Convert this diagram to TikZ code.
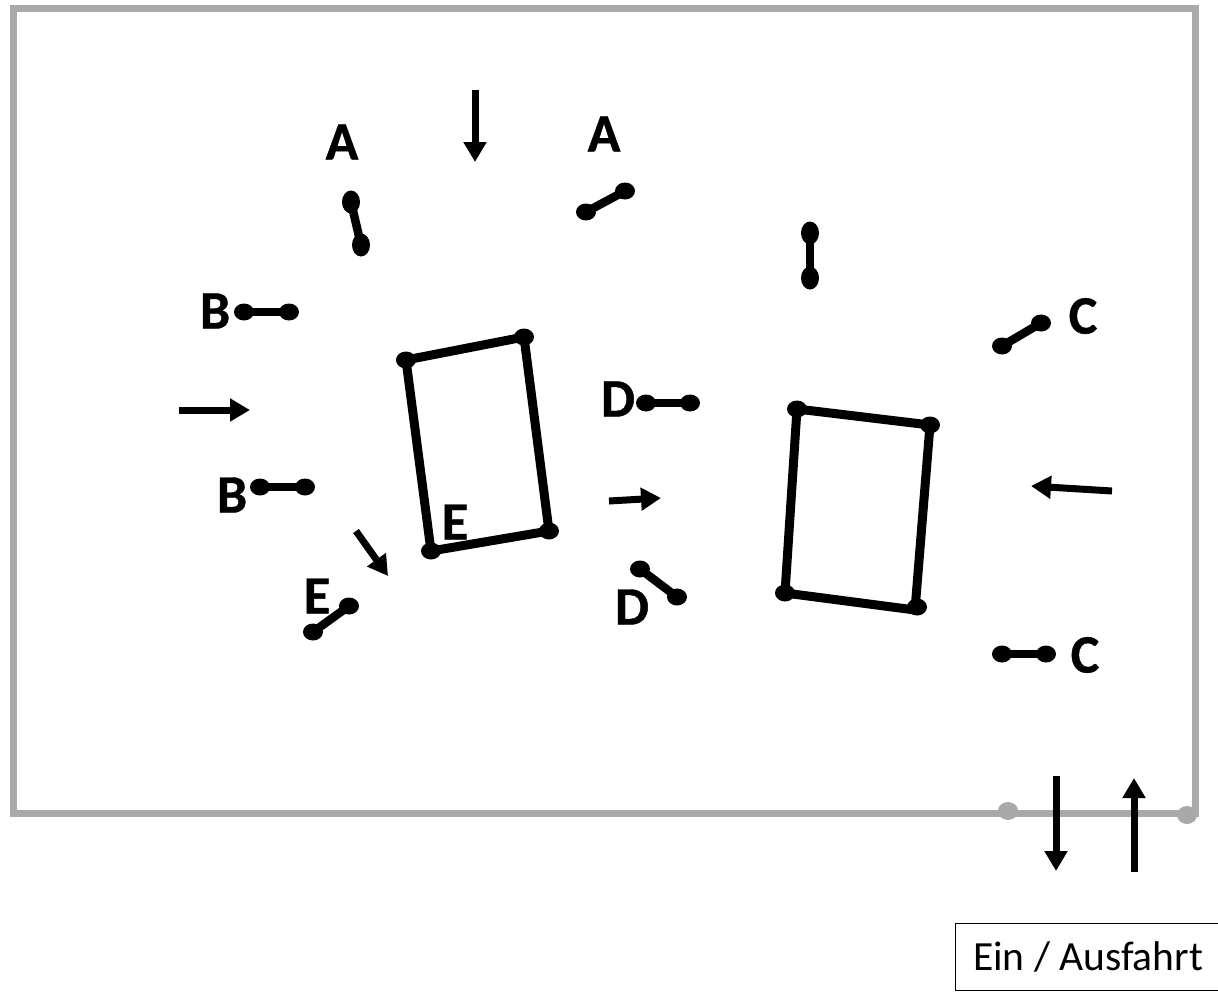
\documentclass[tikz,border=0pt]{standalone}
\usepackage{fontspec}
\setmainfont{Carlito}[BoldFeatures={FakeBold=0.8}]
\usetikzlibrary{arrows.meta,shapes.geometric}
\definecolor{framegray}{HTML}{A9A9A9}
\tikzset{
  pad/.style={ellipse,fill=black,inner sep=0pt,minimum width=20pt,minimum height=17pt},
  padv/.style={ellipse,fill=black,inner sep=0pt,minimum width=18pt,minimum height=23pt},
  padg/.style={ellipse,fill=framegray,inner sep=0pt,minimum width=20pt,minimum height=18pt},
  link/.style={line width=8.5pt},
  bldg/.style={line width=9pt,line join=miter},
  flow/.style={line width=7pt,-{Triangle[length=20pt,width=22pt]}},
  lbl/.style={font=\bfseries\fontsize{54}{54}\selectfont,inner sep=0pt,text=black},
  frame/.style={line width=7pt,draw=framegray,line join=miter}
}
\begin{document}
\begin{tikzpicture}[x=1pt,y=-1pt]
\useasboundingbox (0,0) rectangle (1218,991);
\fill[white] (0,0) rectangle (1218,991);
% site boundary
\coordinate (f1) at (13.5,8);
\coordinate (f2) at (1195.5,8);
\coordinate (f3) at (1195.5,813.5);
\coordinate (f4) at (13.5,813.5);
\draw[frame] (f1) -- (f2) -- (f3) -- (f4) -- cycle;
\node[padg] (g1) at (1008,811) {};
\node[padg] (g2) at (1187,815) {};
% pads
\node[padv] (a1) at (351,202) {};
\node[padv] (a2) at (361,245) {};
\draw[link] (a1.center) -- (a2.center);
\node[pad] (a3) at (586,212) {};
\node[pad] (a4) at (625,191) {};
\draw[link] (a3.center) -- (a4.center);
\node[padv] (t1) at (810,233) {};
\node[padv] (t2) at (810,278) {};
\draw[link] (t1.center) -- (t2.center);
\node[pad] (b1) at (244,312) {};
\node[pad] (b2) at (289,312) {};
\draw[link] (b1.center) -- (b2.center);
\node[pad] (b3) at (260,487) {};
\node[pad] (b4) at (305,487) {};
\draw[link] (b3.center) -- (b4.center);
\node[pad] (c1) at (1002,346) {};
\node[pad] (c2) at (1041,323) {};
\draw[link] (c1.center) -- (c2.center);
\node[pad] (c3) at (1002,654) {};
\node[pad] (c4) at (1046,654) {};
\draw[link] (c3.center) -- (c4.center);
\node[pad] (d1) at (646,403) {};
\node[pad] (d2) at (690,403) {};
\draw[link] (d1.center) -- (d2.center);
\node[pad] (d3) at (640,569) {};
\node[pad] (d4) at (677,597) {};
\draw[link] (d3.center) -- (d4.center);
\node[pad] (e1) at (313,632) {};
\node[pad] (e2) at (349,606) {};
\draw[link] (e1.center) -- (e2.center);
% buildings
\node[pad] (r1) at (406,360) {};
\node[pad] (r2) at (524,337) {};
\node[pad] (r3) at (549,531) {};
\node[pad] (r4) at (431,551) {};
\draw[bldg] (r1.center) -- (r2.center) -- (r3.center) -- (r4.center) -- cycle;
\node[pad] (s1) at (797,409) {};
\node[pad] (s2) at (930,425) {};
\node[pad] (s3) at (917,607) {};
\node[pad] (s4) at (785,593) {};
\draw[bldg] (s1.center) -- (s2.center) -- ([shift={(-2,3)}]s3.center) -- (s4.center) -- cycle;
% flow arrows
\coordinate (p1) at (475,90);   \coordinate (q1) at (475,162);
\coordinate (p2) at (179,410);  \coordinate (q2) at (250,410);
\coordinate (p3) at (1112,491); \coordinate (q3) at (1031,486);
\coordinate (p4) at (609,501);  \coordinate (q4) at (661,498);
\coordinate (p5) at (356,531);  \coordinate (q5) at (388,576);
\coordinate (p6) at (1056,776); \coordinate (q6) at (1056,871);
\coordinate (p7) at (1134,872); \coordinate (q7) at (1134,778);
\draw[flow] (p1) -- (q1);
\draw[flow] (p2) -- (q2);
\draw[flow] (p3) -- (q3);
\draw[flow] (p4) -- (q4);
\draw[flow] (p5) -- (q5);
\draw[flow] (p6) -- (q6);
\draw[flow] (p7) -- (q7);
% labels
\node[lbl] (la1) at (342,142) {A};
\node[lbl] (la2) at (604,134) {A};
\node[lbl] (lb1) at (215,311) {B};
\node[lbl] (lb2) at (232,495) {B};
\node[lbl] (lc1) at (1083,316) {C};
\node[lbl] (lc2) at (1085,655) {C};
\node[lbl] (ld1) at (618,399) {D};
\node[lbl] (ld2) at (632,607) {D};
\node[lbl] (le1) at (455,522) {E};
\node[lbl] (le2) at (317,596) {E};
% legend
\node[draw=black,line width=1.2pt,inner sep=0pt,minimum width=263pt,minimum height=67pt,
      anchor=north west,font=\fontsize{41.5}{41.5}\selectfont] (box) at (954.5,922.5) {\hspace*{3pt}Ein / Ausfahrt};
\end{tikzpicture}
\end{document}
